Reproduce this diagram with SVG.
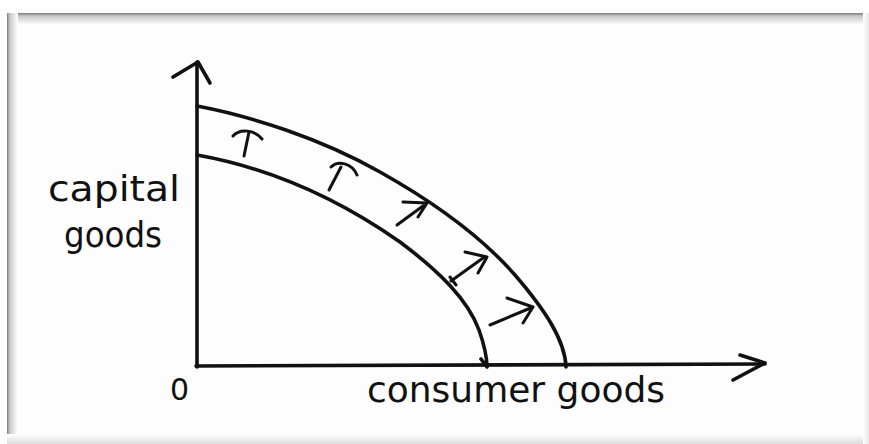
<svg xmlns="http://www.w3.org/2000/svg" width="869" height="444" viewBox="0 0 869 444">
<defs>
<linearGradient id="gTop" x1="0" y1="0" x2="0" y2="1"><stop offset="0" stop-color="#7a7a7a"/><stop offset="0.25" stop-color="#c8c8c8"/><stop offset="1" stop-color="#ffffff"/></linearGradient>
<linearGradient id="gLeft" x1="0" y1="0" x2="1" y2="0"><stop offset="0" stop-color="#7a7a7a"/><stop offset="0.25" stop-color="#c8c8c8"/><stop offset="1" stop-color="#ffffff"/></linearGradient>
<linearGradient id="gBot" x1="0" y1="1" x2="0" y2="0"><stop offset="0" stop-color="#dcdcdc"/><stop offset="1" stop-color="#ffffff"/></linearGradient>
<linearGradient id="gRight" x1="1" y1="0" x2="0" y2="0"><stop offset="0" stop-color="#e6e6e6"/><stop offset="1" stop-color="#ffffff"/></linearGradient>
</defs>
<style>
.ink{fill:none;stroke:#111;stroke-width:3.6;stroke-linecap:round;stroke-linejoin:round}
.thin{fill:none;stroke:#111;stroke-width:3;stroke-linecap:round;stroke-linejoin:round}
.hand{font-family:"DejaVu Sans",sans-serif;fill:#111}
</style>
<rect width="869" height="444" fill="#ffffff"/>
<g id="frame">
<rect x="7" y="13" width="862" height="431" fill="#fdfdfd"/>
<rect x="7" y="13" width="862" height="12" fill="url(#gTop)"/>
<rect x="7" y="13" width="11" height="431" fill="url(#gLeft)"/>
<rect x="7" y="434" width="862" height="10" fill="url(#gBot)"/>
<rect x="863" y="13" width="6" height="431" fill="url(#gRight)"/>
</g>
<g id="connectors">
<g id="y-axis"><path class="ink" d="M197,367 L197,62"/><path class="ink" d="M173,77 L198,62 L210,83"/></g>
<g id="x-axis"><path class="ink" d="M196,366 L765,364"/><path class="ink" d="M740,355 L765,363 L733,380"/></g>
<g id="ppf-outer"><path class="ink" d="M197,106 C250,116 320,138 380,172 C430,200 480,235 515,275 C545,310 565,340 566,367"/></g>
<g id="ppf-inner"><path class="ink" d="M197,155 C270,168 340,200 400,242 C440,272 468,300 479,330 C486,350 487,360 487,367 M481,359 L487,367"/></g>
<g id="shift-arrows">
<path class="thin" d="M244,156 L249,132 M233,136 C240,128 255,130 262,139"/>
<path class="thin" d="M329,190 L341,167 M331,167 C338,160 352,163 357,175"/>
<path class="thin" d="M397,225 L427,203 M403,202 L427,203 L418,217"/>
<path class="thin" d="M451,281 L483,258 M465,252 L487,257 L478,273 M450,277 L456,285"/>
<path class="thin" d="M490,325 L533,307 M507,298 L533,307 L523,323"/>
</g>
</g>
<g id="label-y">
<text class="hand" x="48" y="201" font-size="36" textLength="132" lengthAdjust="spacingAndGlyphs">capital</text>
<text class="hand" x="64" y="247" font-size="36" textLength="98" lengthAdjust="spacingAndGlyphs">goods</text>
</g>
<g id="label-origin"><text class="hand" x="170" y="400" font-size="30">0</text></g>
<g id="label-x"><text class="hand" x="367" y="402" font-size="36" textLength="298" lengthAdjust="spacingAndGlyphs">consumer goods</text></g>
</svg>
